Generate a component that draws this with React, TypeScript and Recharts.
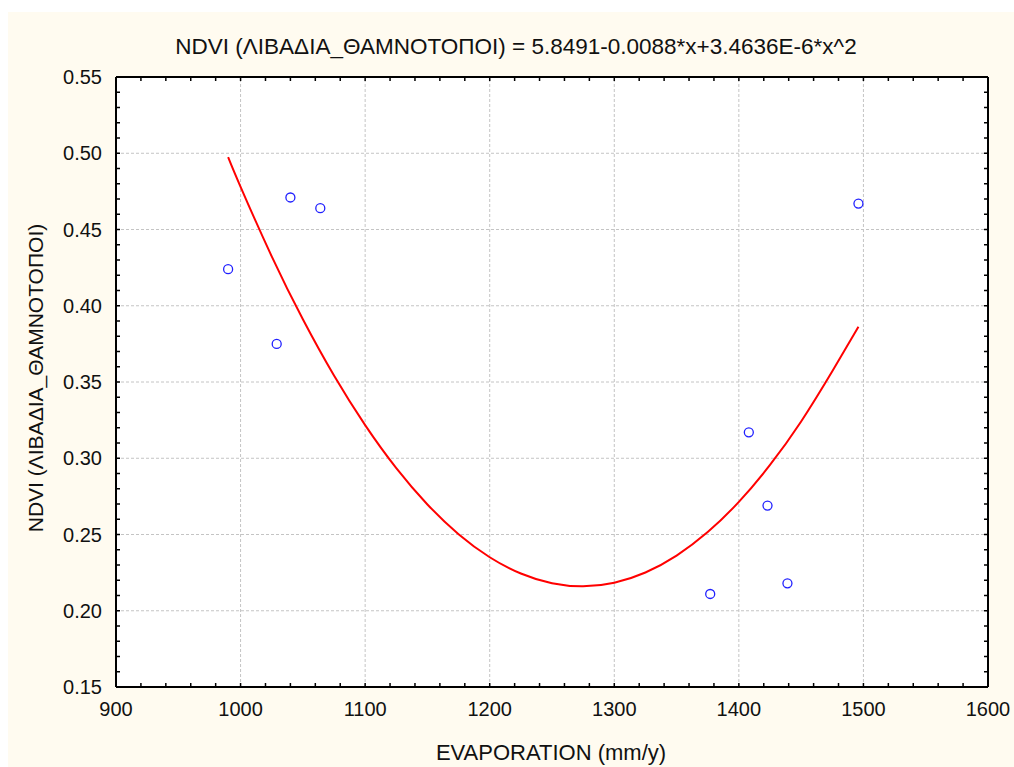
import React from "react";
import {
  ComposedChart,
  Scatter,
  Line,
  XAxis,
  YAxis,
  CartesianGrid,
  ReferenceLine,
} from "recharts";

// observed points (EVAPORATION mm/y, NDVI)
const evap = [990, 1029, 1040, 1064, 1377, 1408, 1423, 1439, 1496];
const ndvi = [0.424, 0.375, 0.471, 0.464, 0.211, 0.317, 0.269, 0.218, 0.467];

// fitted curve
const fitX = [990, 1000, 1025, 1050, 1075, 1100, 1125, 1150, 1175, 1200, 1225, 1250, 1275, 1300, 1325, 1350, 1375, 1400, 1425, 1450, 1475, 1496];
const fitY = [0.4975, 0.478, 0.4324, 0.3911, 0.3542, 0.3217, 0.2935, 0.2697, 0.2502, 0.2351, 0.2244, 0.218, 0.216, 0.2184, 0.2251, 0.2362, 0.2516, 0.2714, 0.2956, 0.3241, 0.357, 0.3862];

const xMajor = [900, 1000, 1100, 1200, 1300, 1400, 1500, 1600];
const yMajor = [0.15, 0.2, 0.25, 0.3, 0.35, 0.4, 0.45, 0.5, 0.55];
const xMinor = Array.from({ length: 36 }, (_, i) => 900 + i * 20);
const yMinor = Array.from({ length: 41 }, (_, i) => Math.round((0.15 + i * 0.01) * 100) / 100);

const title = "NDVI (ΛΙΒΑΔΙΑ_ΘΑΜΝΟΤΟΠΟΙ) = 5.8491-0.0088*x+3.4636E-6*x^2";
const xTitle = "EVAPORATION (mm/y)";
const yTitle = "NDVI (ΛΙΒΑΔΙΑ_ΘΑΜΝΟΤΟΠΟΙ)";

const points = evap.map((x, i) => ({ x, y: ndvi[i] }));
const curve = fitX.map((x, i) => ({ x, y: fitY[i] }));

const FONT = '"Liberation Sans", Arial, sans-serif';
const W = 1006;
const H = 755;

const isMajorX = (v: number) => v % 100 === 0;
const isMajorY = (v: number) => Math.round(v * 100) % 5 === 0;

const BottomTick = (p: any) => {
  const v = p.payload.value;
  return (
    <g>
      <line x1={p.x} y1={p.y} x2={p.x} y2={p.y - 4} stroke="#000" strokeWidth={1.5} />
      {isMajorX(v) && (
        <text x={p.x} y={p.y + 29} textAnchor="middle" fontSize={20} fontFamily={FONT} fill="#111">
          {v}
        </text>
      )}
    </g>
  );
};

const TopTick = (p: any) => (
  <line x1={p.x} y1={p.y} x2={p.x} y2={p.y + 4} stroke="#000" strokeWidth={1.5} />
);

const LeftTick = (p: any) => {
  const v = p.payload.value;
  return (
    <g>
      <line x1={p.x} y1={p.y} x2={p.x + 4} y2={p.y} stroke="#000" strokeWidth={1.5} />
      {isMajorY(v) && (
        <text x={p.x - 14} y={p.y} dy="0.36em" textAnchor="end" fontSize={20} fontFamily={FONT} fill="#111">
          {v.toFixed(2)}
        </text>
      )}
    </g>
  );
};

const RightTick = (p: any) => (
  <line x1={p.x} y1={p.y} x2={p.x - 4} y2={p.y} stroke="#000" strokeWidth={1.5} />
);

const Ring = (p: any) => (
  <circle cx={p.cx} cy={p.cy} r={4.5} fill="none" stroke="#2020ff" strokeWidth={1.3} />
);

const Nothing = () => <g />;

export default function App() {
  return (
    <div style={{ position: "absolute", left: 8, top: 12, width: W, height: H, background: "#fffbf0" }}>
      <ComposedChart width={W} height={H} margin={{ top: 64, right: 25, bottom: 0, left: 0 }}>
        <CartesianGrid fill="#ffffff" horizontal={false} vertical={false} />
        {xMajor.slice(1, -1).map((v) => (
          <ReferenceLine key={"x" + v} x={v} stroke="#c4c4c4" strokeDasharray="3 2" ifOverflow="hidden" />
        ))}
        {yMajor.slice(1, -1).map((v) => (
          <ReferenceLine key={"y" + v} y={v} stroke="#c4c4c4" strokeDasharray="3 2" ifOverflow="hidden" />
        ))}
        <XAxis
          dataKey="x"
          type="number"
          domain={[900, 1600]}
          ticks={xMinor}
          interval={0}
          allowDataOverflow
          height={80}
          tickSize={0}
          tickMargin={0}
          tickLine={false}
          tick={BottomTick}
          axisLine={{ stroke: "#000", strokeWidth: 2 }}
        />
        <XAxis
          xAxisId="top"
          dataKey="x"
          orientation="top"
          type="number"
          domain={[900, 1600]}
          ticks={xMinor}
          interval={0}
          allowDataOverflow
          height={1}
          tickSize={0}
          tickMargin={0}
          tickLine={false}
          tick={TopTick}
          axisLine={{ stroke: "#000", strokeWidth: 2 }}
        />
        <YAxis
          type="number"
          domain={[0.15, 0.55]}
          ticks={yMinor}
          interval={0}
          allowDataOverflow
          width={108}
          tickSize={0}
          tickMargin={0}
          tickLine={false}
          tick={LeftTick}
          axisLine={{ stroke: "#000", strokeWidth: 2 }}
        />
        <YAxis
          yAxisId="right"
          orientation="right"
          type="number"
          domain={[0.15, 0.55]}
          ticks={yMinor}
          interval={0}
          allowDataOverflow
          width={1}
          tickSize={0}
          tickMargin={0}
          tickLine={false}
          tick={RightTick}
          axisLine={{ stroke: "#000", strokeWidth: 2 }}
        />
        <Line
          data={curve}
          dataKey="y"
          type="natural"
          stroke="#ff0000"
          strokeWidth={2}
          dot={false}
          activeDot={false}
          isAnimationActive={false}
        />
        <Scatter data={points} dataKey="y" shape={Ring} isAnimationActive={false} />
        <Scatter
          data={points}
          dataKey="y"
          xAxisId="top"
          yAxisId="right"
          shape={Nothing}
          isAnimationActive={false}
        />
      </ComposedChart>
      <svg
        width={W}
        height={H}
        style={{ position: "absolute", left: 0, top: 0, pointerEvents: "none" }}
      >
        <text x={508} y={42} textAnchor="middle" fontSize={22.5} fontFamily={FONT} fill="#111">
          {title}
        </text>
        <text x={543} y={748} textAnchor="middle" fontSize={22} fontFamily={FONT} fill="#111">
          {xTitle}
        </text>
        <text
          x={35}
          y={366}
          textAnchor="middle"
          fontSize={21}
          fontFamily={FONT}
          fill="#111"
          transform="rotate(-90 35 366)"
        >
          {yTitle}
        </text>
      </svg>
    </div>
  );
}
